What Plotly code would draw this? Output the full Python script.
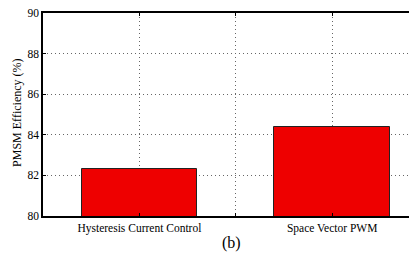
import plotly.graph_objects as go

categories = ["Hysteresis Current Control", "Space Vector PWM"]
x_positions = [1, 2]
efficiency = [82.3, 84.4]
y_ticks = [80, 82, 84, 86, 88, 90]
y_title = "PMSM Efficiency (%)"

font_family = "Liberation Serif"

fig = go.Figure()
fig.add_trace(go.Bar(
    x=x_positions, y=efficiency, width=0.6,
    marker=dict(color="#EE0000", line=dict(color="#222222", width=1)),
))

# page body has an 8px default margin; figure sized to fit the window
fig.update_layout(
    width=409, height=248,
    margin=dict(l=35, r=0, t=5, b=40, autoexpand=False),
    paper_bgcolor="white", plot_bgcolor="white",
    font=dict(family=font_family, size=11, color="black"),
    showlegend=False,
    bargap=0,
)
fig.update_xaxes(
    range=[0.5, 2.44],
    tickvals=[1, 1.5, 2],
    ticktext=[categories[0], "", categories[1]],
    ticks="inside", ticklen=3, tickcolor="black",
    showline=True, linecolor="black", linewidth=1.5, mirror="ticks",
    showgrid=True, gridcolor="#666666", griddash="1px,3px", gridwidth=1,
    zeroline=False, automargin=False,
    tickfont=dict(size=11.5, family=font_family),
)
fig.update_yaxes(
    range=[80, 90],
    tickvals=y_ticks,
    ticks="inside", ticklen=3, tickcolor="black",
    showline=True, linecolor="black", linewidth=1.5,
    showgrid=True, gridcolor="#666666", griddash="1px,3px", gridwidth=1,
    zeroline=False, automargin=False, ticklabeloverflow="allow",
    tickfont=dict(size=11.5, family=font_family),
)
fig.add_annotation(
    text=y_title, xref="paper", yref="paper", x=-0.07, y=0.507,
    xanchor="center", yanchor="middle", showarrow=False, textangle=-90,
    font=dict(size=12, family=font_family),
)
fig.add_annotation(
    text="(b)", xref="paper", yref="paper", x=0.505, y=-0.135,
    xanchor="center", yanchor="middle", showarrow=False,
    font=dict(size=16, family=font_family),
)
fig.write_html("out.html")
